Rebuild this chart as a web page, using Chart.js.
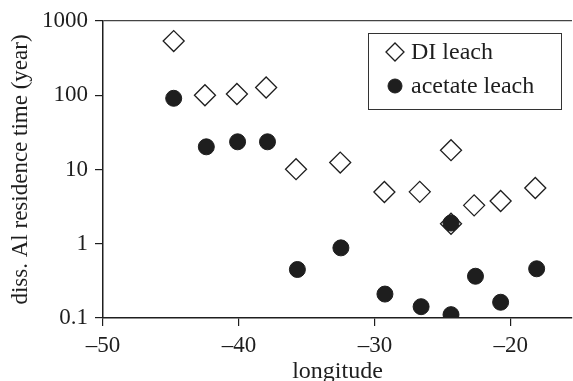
<!DOCTYPE html>
<html>
<head>
<meta charset="utf-8">
<script src="https://cdn.jsdelivr.net/npm/chart.js@4.4.1/dist/chart.umd.min.js"></script>
<style>
  body { margin: 0; background: #fff; }
  #wrap { width: 573px; height: 381px; }
</style>
</head>
<body>
<div id="wrap"><canvas id="chart" width="573" height="381"></canvas></div>
<script>
// longitude of each sample
var diLon = [-44.8, -42.5, -40.15, -38.0, -35.8, -32.55, -29.3, -26.7, -24.4, -24.4, -22.7, -20.75, -18.2]
// residence time, years (DI leach)
var diTime = [537, 100, 104, 127, 10.1, 12.4, 4.98, 5.0, 18.2, 1.86, 3.29, 3.77, 5.64]

var acLon = [-44.8, -42.4, -40.1, -37.9, -35.7, -32.5, -29.26, -26.6, -24.4, -24.4, -22.6, -20.75, -18.1]
var acTime = [91, 20.2, 23.6, 23.6, 0.45, 0.88, 0.21, 0.142, 0.111, 1.9, 0.365, 0.163, 0.46]

var xTicks = [-50, -40, -30, -20]
var yTicks = [0.1, 1, 10, 100, 1000]
var yTickLabels = ['0.1', '1', '10', '100', '1000']

var ink = '#1e1e1e'
var serif = "'Liberation Serif', 'DejaVu Serif', serif"

function pairs(xs, ys){
  return xs.map(function(x, i){ return {x: x, y: ys[i]} })
}

// legend drawn inside the plot, like the original figure
var boxLegend = {
  id: 'boxLegend',
  afterDatasetsDraw: function(chart){
    var ctx = chart.ctx
    var dsets = chart.data.datasets
    ctx.save()
    ctx.strokeStyle = '#333'
    ctx.lineWidth = 1
    ctx.strokeRect(368.5, 33.5, 193, 76)
    ctx.font = '24px ' + serif
    ctx.textBaseline = 'middle'
    var rows = [52, 86]
    // DI leach is dataset 1, acetate leach is dataset 0
    var order = [1, 0]
    order.forEach(function(di, r){
      var ds = dsets[di]
      var rr = ds.legendRadius
      ctx.fillStyle = ds.backgroundColor
      ctx.strokeStyle = ds.borderColor
      ctx.lineWidth = ds.borderWidth
      ctx.beginPath()
      if (ds.pointStyle === 'circle') {
        ctx.arc(395, rows[r], rr, 0, Math.PI * 2)
      } else {
        ctx.moveTo(395 - rr, rows[r]); ctx.lineTo(395, rows[r] - rr)
        ctx.lineTo(395 + rr, rows[r]); ctx.lineTo(395, rows[r] + rr); ctx.closePath()
      }
      ctx.fill(); ctx.stroke()
      ctx.fillStyle = ink
      ctx.fillText(ds.label, 411, rows[r] + 1)
    })
    ctx.restore()
  }
}

var chart = new Chart(document.getElementById('chart'), {
  type: 'scatter',
  data: {
    datasets: [{
      label: 'acetate leach',
      data: pairs(acLon, acTime),
      pointStyle: 'circle',
      pointRadius: 8,
      legendRadius: 7,
      backgroundColor: ink,
      borderColor: ink,
      borderWidth: 1,
      order: 0
    }, {
      label: 'DI leach',
      data: pairs(diLon, diTime),
      pointStyle: 'rectRot',
      pointRadius: 10.5,
      legendRadius: 9,
      backgroundColor: '#fff',
      borderColor: ink,
      borderWidth: 1.3,
      order: 1
    }]
  },
  options: {
    responsive: false,
    animation: false,
    layout: { autoPadding: false, padding: { top: 21, right: 1, left: 0, bottom: 0 } },
    plugins: { legend: { display: false }, tooltip: { enabled: false } },
    scales: {
      x: {
        type: 'linear',
        min: -50, max: -15.5,
        afterBuildTicks: function(s){ s.ticks = xTicks.map(function(v){ return {value: v} }) },
        afterFit: function(s){ s.height = 63; s.paddingLeft = 0; s.paddingRight = 0 },
        border: { display: true, color: ink, width: 1.5 },
        grid: { drawOnChartArea: false, color: ink, tickColor: ink, tickLength: 8, lineWidth: 1.2 },
        ticks: {
          color: ink, padding: 6,
          font: { family: serif, size: 23 },
          callback: function(v){ return v < 0 ? '\u2013' + Math.abs(v) : '' + v }
        },
        title: {
          display: true, text: 'longitude', color: ink,
          font: { family: serif, size: 24, lineHeight: 0.75 },
          padding: 0
        }
      },
      y: {
        type: 'logarithmic',
        min: 0.1, max: 1000,
        afterBuildTicks: function(s){ s.ticks = yTicks.map(function(v){ return {value: v} }) },
        afterFit: function(s){ s.width = 103 },
        border: { display: true, color: ink, width: 1.5 },
        grid: {
          color: function(c){ return c.tick && c.tick.value === 1000 ? '#444' : 'rgba(0,0,0,0)' },
          tickColor: ink, tickLength: 8, lineWidth: 1.2
        },
        ticks: {
          color: ink, padding: 7,
          font: { family: serif, size: 23 },
          callback: function(v){ var i = yTicks.indexOf(v); return i >= 0 ? yTickLabels[i] : '' }
        },
        title: {
          display: true, text: 'diss. Al residence time (year)', color: ink,
          font: { family: serif, size: 23, lineHeight: 1 },
          padding: 9
        }
      }
    }
  },
  plugins: [boxLegend]
})
</script>
</body>
</html>
